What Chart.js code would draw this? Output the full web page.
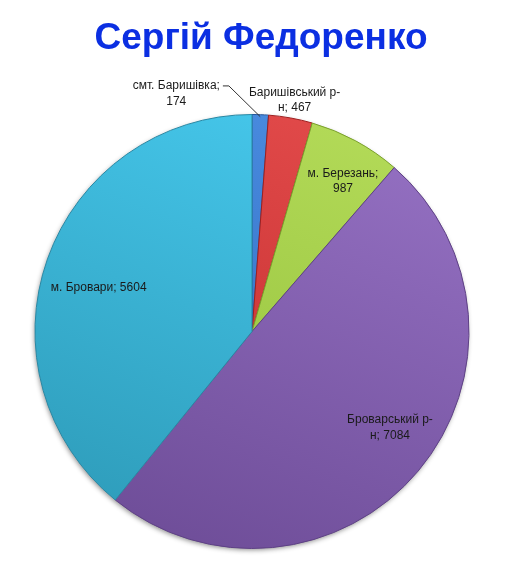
<!DOCTYPE html>
<html>
<head>
<meta charset="utf-8">
<script src="https://cdn.jsdelivr.net/npm/chart.js@4/dist/chart.umd.min.js"></script>
<style>
  html, body { margin: 0; padding: 0; background: #ffffff; }
  #wrap { width: 509px; height: 572px; position: relative; }
</style>
</head>
<body>
<div id="wrap"><canvas id="c" width="509" height="572"></canvas></div>
<script>
// ---- data ----
const chartTitle = 'Сергій Федоренко';
const categories = ['смт. Баришівка', 'Баришівський р-н', 'м. Березань', 'Броварський р-н', 'м. Бровари'];
const values = [174, 467, 987, 7084, 5604];

// ---- styles ----
const lightColors = ['#4a8ce0', '#e24a4a', '#b3da58', '#9470c2', '#46c8ec'];
const darkColors  = ['#2c66ba', '#bd2a2a', '#90be38', '#6e4d98', '#2e9cba'];
const edgeColors  = ['#24559c', '#9e2020', '#7aa02c', '#5e4185', '#2a88a4'];

const labelStyle = [
  { frac: 1.0,  dx: -84, dy: -21, wrap: 98, leader: true },
  { frac: 1.0,  dx: 4,   dy: -18, wrap: 98 },
  { frac: 0.82, dx: 6,   dy: 6,   wrap: 80 },
  { frac: 0.77, dx: 10,  dy: -11, wrap: 90 },
  { frac: 0.74, dx: -2,  dy: 10,  wrap: 200 }
];

function wrapText(ctx, text, maxW) {
  const tokens = text.match(/[^\s-]*[\s-]?/g).filter(t => t.length);
  const lines = [];
  let cur = '';
  for (const t of tokens) {
    const test = cur + t;
    if (cur && ctx.measureText(test.trimEnd()).width > maxW) {
      lines.push(cur.trimEnd());
      cur = t;
    } else {
      cur = test;
    }
  }
  if (cur) lines.push(cur.trimEnd());
  return lines;
}

const titlePlugin = {
  id: 'customTitle',
  afterDraw(chart) {
    const ctx = chart.ctx;
    ctx.save();
    ctx.font = 'bold 37px "Liberation Sans", Arial, sans-serif';
    ctx.fillStyle = '#0b2fe2';
    ctx.textAlign = 'center';
    ctx.textBaseline = 'middle';
    ctx.fillText(chartTitle, 261, 39);
    ctx.restore();
  }
};

const shadowPlugin = {
  id: 'pieShadow',
  beforeDatasetsDraw(chart) {
    const arc = chart.getDatasetMeta(0).data[0];
    if (!arc) return;
    const ctx = chart.ctx;
    ctx.save();
    ctx.shadowColor = 'rgba(0,0,0,0.45)';
    ctx.shadowBlur = 5;
    ctx.shadowOffsetX = -1;
    ctx.shadowOffsetY = 2;
    ctx.fillStyle = '#ffffff';
    ctx.beginPath();
    ctx.arc(arc.x, arc.y, arc.outerRadius - 0.5, 0, Math.PI * 2);
    ctx.fill();
    ctx.restore();
  }
};

const labelPlugin = {
  id: 'sliceLabels',
  afterDatasetsDraw(chart) {
    const ctx = chart.ctx;
    const meta = chart.getDatasetMeta(0);
    ctx.save();
    ctx.font = '12px "Liberation Sans", Arial, sans-serif';
    ctx.fillStyle = '#1a1a1a';
    ctx.textAlign = 'center';
    ctx.textBaseline = 'middle';
    const lh = 15.5;
    meta.data.forEach((arc, i) => {
      const st = labelStyle[i];
      const mid = (arc.startAngle + arc.endAngle) / 2;
      const r = arc.outerRadius;
      const px = arc.x + Math.cos(mid) * r * st.frac + st.dx;
      const py = arc.y + Math.sin(mid) * r * st.frac + st.dy;
      const text = categories[i] + '; ' + values[i];
      const lines = wrapText(ctx, text, st.wrap);
      const y0 = py - (lines.length - 1) * lh / 2;
      lines.forEach((ln, k) => ctx.fillText(ln, px, y0 + k * lh));
      if (st.leader) {
        const w = ctx.measureText(lines[0]).width;
        const sx = px + w / 2 + 3;
        const sy = y0;
        const ax = arc.x + Math.cos(mid) * (r - 2);
        const ay = arc.y + Math.sin(mid) * (r - 2);
        ctx.strokeStyle = '#333333';
        ctx.lineWidth = 1;
        ctx.beginPath();
        ctx.moveTo(sx, sy);
        ctx.lineTo(sx + 6, sy);
        ctx.lineTo(ax, ay);
        ctx.stroke();
      }
    });
    ctx.restore();
  }
};

function sliceGradient(context) {
  const chart = context.chart;
  const area = chart.chartArea;
  if (!area) return lightColors[context.dataIndex];
  const i = context.dataIndex;
  const cx = (area.left + area.right) / 2;
  const g = chart.ctx.createLinearGradient(cx + 90, area.top, cx - 90, area.bottom);
  g.addColorStop(0, lightColors[i]);
  g.addColorStop(1, darkColors[i]);
  return g;
}

new Chart(document.getElementById('c'), {
  type: 'pie',
  data: {
    labels: categories,
    datasets: [{
      data: values,
      backgroundColor: sliceGradient,
      borderColor: edgeColors,
      borderWidth: 1
    }]
  },
  options: {
    responsive: false,
    animation: false,
    events: [],
    layout: { padding: { left: 0, right: 5, top: 114, bottom: 23 } },
    plugins: {
      legend: { display: false },
      tooltip: { enabled: false },
      title: { display: false }
    }
  },
  plugins: [shadowPlugin, labelPlugin, titlePlugin]
});
</script>
</body>
</html>
